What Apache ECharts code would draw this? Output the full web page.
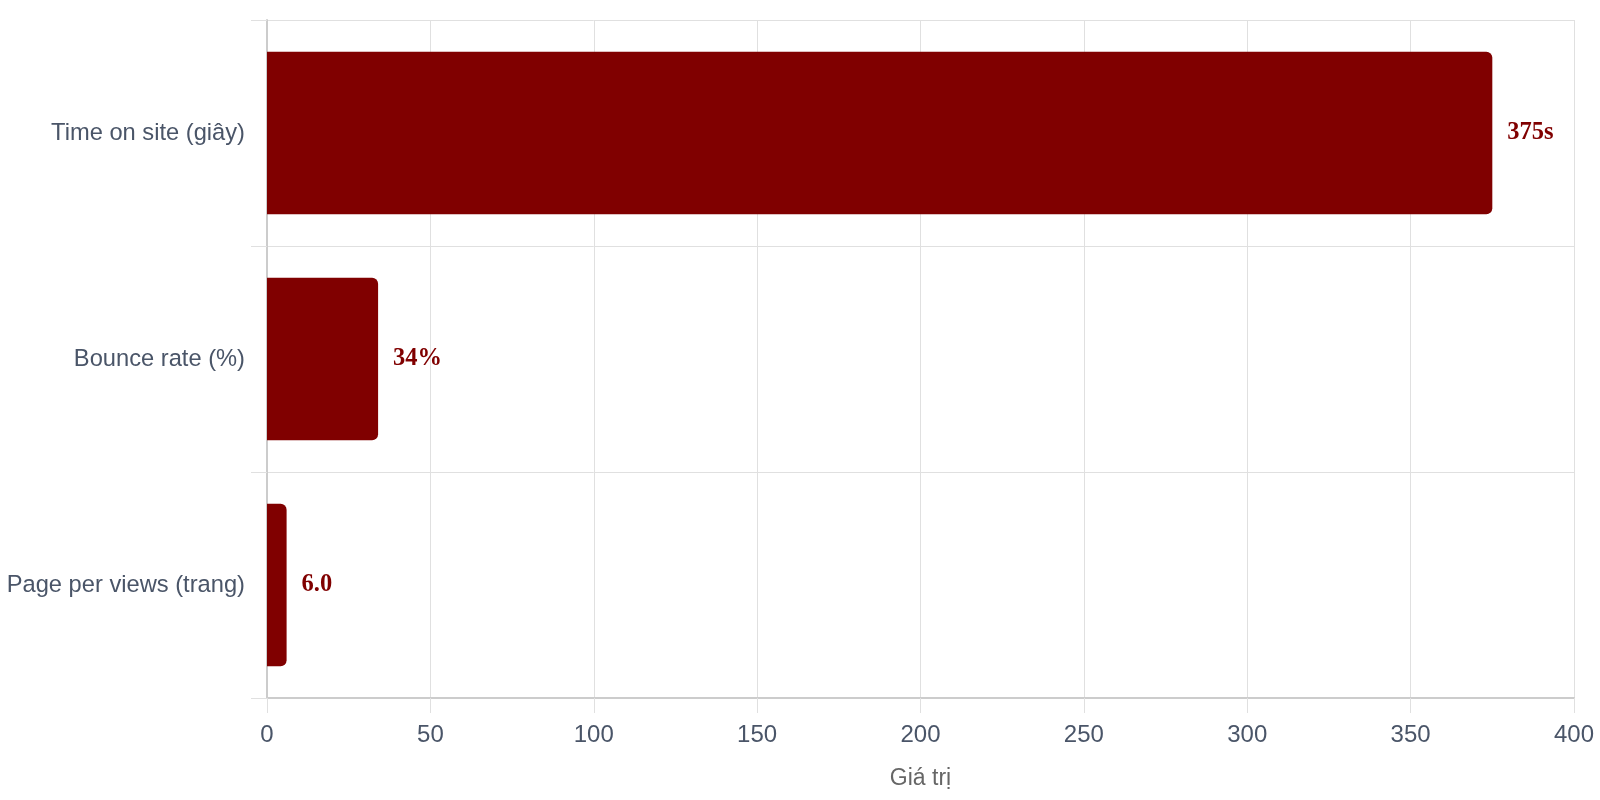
<!DOCTYPE html>
<html>
<head>
<meta charset="utf-8">
<script src="https://cdn.jsdelivr.net/npm/echarts@6/dist/echarts.min.js"></script>
<style>html,body{margin:0;padding:0;background:#fff}#c{width:1600px;height:800px}</style>
</head>
<body>
<div id="c"></div>
<script>
const categories = ['Time on site (giây)', 'Bounce rate (%)', 'Page per views (trang)'];
const values = [375, 34, 6];
const labelTexts = ['375s', '34%', '6.0'];
const xTicks = [0, 50, 100, 150, 200, 250, 300, 350, 400];
const xAxisName = 'Giá trị';

const chart = echarts.init(document.getElementById('c'));
chart.setOption({
  animation: false,
  grid: { left: 267, right: 26, top: 20, bottom: 102, containLabel: false, outerBoundsMode: 'none' },
  xAxis: {
    type: 'value',
    min: xTicks[0], max: xTicks[xTicks.length - 1], interval: xTicks[1] - xTicks[0],
    name: xAxisName, nameLocation: 'middle', nameGap: 69,
    nameTextStyle: { color: '#666', fontSize: 23, fontFamily: 'Liberation Sans' },
    axisLine: { show: true, lineStyle: { color: '#ccc', width: 2 } },
    axisTick: { show: true, length: 15, lineStyle: { color: '#e0e0e0' } },
    axisLabel: { color: '#4a5568', fontSize: 24, fontFamily: 'Liberation Sans', margin: 25 },
    splitLine: { show: true, lineStyle: { color: '#e0e0e0' } }
  },
  yAxis: {
    type: 'category', data: categories, inverse: true,
    axisLine: { show: true, lineStyle: { color: '#ccc', width: 2 } },
    axisTick: { show: true, length: 16, lineStyle: { color: '#e0e0e0' } },
    axisLabel: { color: '#4a5568', fontSize: 23.7, fontFamily: 'Liberation Sans', margin: 22 },
    splitLine: { show: true, lineStyle: { color: '#e0e0e0' } }
  },
  series: [{
    type: 'bar',
    data: values,
    barWidth: '72%',
    itemStyle: { color: '#800000', borderRadius: [0, 6, 6, 0] },
    label: {
      show: true, position: 'right', distance: 15,
      color: '#800000', fontSize: 24.5, fontWeight: 'bold', fontFamily: 'Liberation Serif',
      formatter: p => labelTexts[p.dataIndex]
    }
  }]
});
</script>
</body>
</html>
